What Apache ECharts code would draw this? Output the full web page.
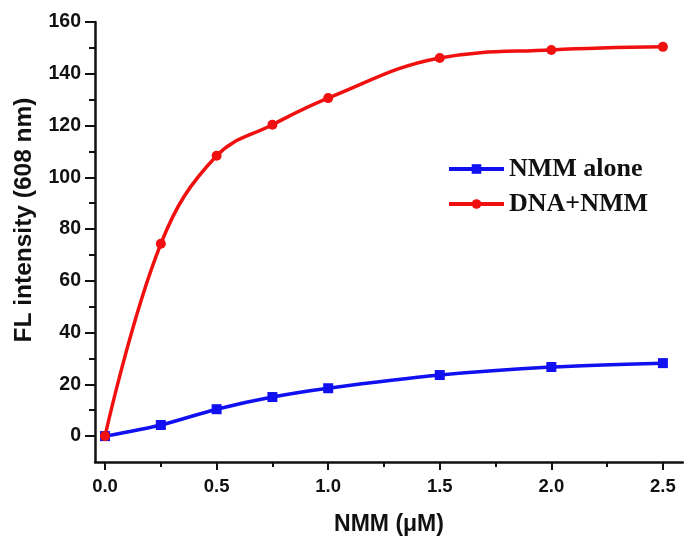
<!DOCTYPE html>
<html><head><meta charset="utf-8">
<script src="https://cdn.jsdelivr.net/npm/echarts@6/dist/echarts.min.js"></script>
<style>html,body{margin:0;padding:0;background:#fff}#c{width:684px;height:539px}</style>
</head><body><div id="c"></div>
<script>
const xValues = [0, 0.25, 0.5, 0.75, 1.0, 1.5, 2.0, 2.5];
const nmmAlone = [0, 4.3, 10.4, 15.1, 18.5, 23.6, 26.7, 28.2];
const dnaNmm = [0, 74.3, 108.3, 120.3, 130.6, 146.1, 149.2, 150.4];
const xMajorTicks = [0, 0.5, 1.0, 1.5, 2.0, 2.5];
const xMinorTicks = [0.25, 0.75, 1.25, 1.75, 2.25];
const yMajorTicks = [0, 20, 40, 60, 80, 100, 120, 140, 160];
const yMinorTicks = [10, 30, 50, 70, 90, 110, 130, 150];
const seriesNames = ['NMM alone', 'DNA+NMM'];

const font = 'Liberation Sans, Arial, sans-serif';
const chart = echarts.init(document.getElementById('c'));
const xMin = -0.045, xMax = 2.59, yMin = -10, yMax = 160;
chart.setOption({
  animation: false,
  grid: {left: 95, right: 1, top: 22, bottom: 77, containLabel: false, outerBoundsMode: 'none'},
  legend: {
    orient: 'vertical', left: 442, top: 151, itemWidth: 55, itemHeight: 12, itemGap: 9,
    data: seriesNames,
    lineStyle: {width: 4},
    textStyle: {fontFamily: 'Liberation Serif, Times New Roman, serif', fontWeight: 'bold', fontSize: 26, color: '#111'}
  },
  xAxis: [{
    type: 'value', min: xMin, max: xMax,
    name: 'NMM (μM)', nameLocation: 'middle', nameGap: 51,
    nameTextStyle: {fontFamily: font, fontWeight: 'bold', fontSize: 23, color: '#111'},
    axisLine: {show: true, onZero: false, lineStyle: {color: '#111', width: 2.5}},
    axisTick: {show: true, length: 8, customValues: xMajorTicks, lineStyle: {color: '#111', width: 2}},
    axisLabel: {customValues: xMajorTicks, margin: 15, fontFamily: font, fontWeight: 'bold', fontSize: 18.5, color: '#111',
      formatter: v => v.toFixed(1)},
    splitLine: {show: false}
  }, {
    type: 'value', min: xMin, max: xMax, position: 'bottom', gridIndex: 0,
    axisLine: {show: false, onZero: false},
    axisTick: {show: true, length: 5, customValues: xMinorTicks, lineStyle: {color: '#111', width: 2}},
    axisLabel: {show: false}, splitLine: {show: false}
  }],
  yAxis: [{
    type: 'value', min: yMin, max: yMax,
    name: 'FL intensity (608 nm)', nameLocation: 'middle', nameGap: 58, nameRotate: 90,
    nameTextStyle: {fontFamily: font, fontWeight: 'bold', fontSize: 24.5, color: '#111', padding: [0, 0, 0, 44]},
    axisLine: {show: true, onZero: false, lineStyle: {color: '#111', width: 2.5}},
    axisTick: {show: true, length: 10, customValues: yMajorTicks, lineStyle: {color: '#111', width: 2}},
    axisLabel: {customValues: yMajorTicks, margin: 14, fontFamily: font, fontWeight: 'bold', fontSize: 19.5, color: '#111'},
    splitLine: {show: false}
  }, {
    type: 'value', min: yMin, max: yMax, position: 'left',
    axisLine: {show: false, onZero: false},
    axisTick: {show: true, length: 6, customValues: yMinorTicks, lineStyle: {color: '#111', width: 2}},
    axisLabel: {show: false}, splitLine: {show: false}
  }],
  series: [{
    name: seriesNames[0], type: 'line', smooth: 0.3,
    data: xValues.map((x, i) => [x, nmmAlone[i]]),
    symbol: 'rect', symbolSize: 10, color: '#1010f0',
    lineStyle: {width: 3.5, color: '#1010f0'}, itemStyle: {color: '#1010f0'}
  }, {
    name: seriesNames[1], type: 'line', smooth: 0.4,
    data: xValues.map((x, i) => [x, dnaNmm[i]]),
    symbol: 'circle', symbolSize: 10, color: '#f01010',
    lineStyle: {width: 3.5, color: '#f01010'}, itemStyle: {color: '#f01010'}
  }]
});
</script></body></html>
